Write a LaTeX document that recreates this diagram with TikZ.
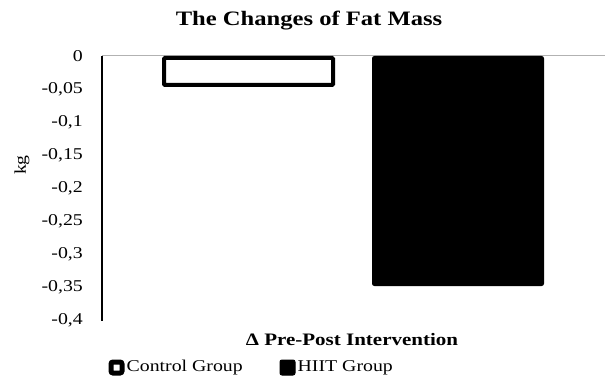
\documentclass[tikz,border=0pt]{standalone}
\usepackage{fontspec}
\setmainfont{Liberation Serif}[FakeStretch=1.2]
\usetikzlibrary{positioning}

\begin{document}
\begin{tikzpicture}[x=1pt,y=-1pt,
    every node/.style={inner sep=0pt},
    tick/.style={anchor=east,font=\fontsize{16.5}{16.5}\selectfont},
    legend/.style={font=\fontsize{16.5}{16.5}\selectfont},
    ctrlbar/.style={draw,line width=4pt,fill=white,rounded corners=1pt},
    hiitbar/.style={draw,line width=1pt,fill=black,rounded corners=2pt},
    keybox/.style={draw,rounded corners=2pt,minimum size=11pt}]
    \useasboundingbox (0,0) rectangle (605,377);
    %Titles
    \node(title) at (309,21) {\fontsize{20.5}{20.5}\selectfont\bfseries The Changes of Fat Mass};
    \node(xlabel) at (352,340) {\fontsize{17.5}{17.5}\selectfont\bfseries Δ Pre-Post Intervention};
    \node(ylabel)[rotate=90,legend] at (22,165) {kg};
    %Axes
    \coordinate(top) at (102,56);
    \coordinate(bottom) at (102,321);
    \coordinate(right) at (605,56);
    \draw[gray!60,line width=1pt] (top) -- (right);
    \foreach \v/\t in {0/0,1/{-0,05},2/{-0,1},3/{-0,15},4/{-0,2},5/{-0,25},6/{-0,3},7/{-0,35},8/{-0,4}}
        \node(tick\v)[tick] at (83,56+33*\v) {\t};
    %Bars
    \node(ctrl)[ctrlbar,minimum width=169pt,minimum height=27pt] at (248.5,71.5) {};
    \node(hiit)[hiitbar,minimum width=171pt,minimum height=229pt] at (458,171) {};
    \draw[line width=1.3pt] (top) -- (bottom);
    %Legend
    \node(ctrlkey)[keybox,fill=white,line width=5pt] at (116.5,367.5) {};
    \node(ctrltext)[legend,right=2pt of ctrlkey] {Control Group};
    \node(hiitkey)[keybox,fill=black,line width=1pt,minimum size=15pt] at (287.5,367.5) {};
    \node(hiittext)[legend,right=2pt of hiitkey] {HIIT Group};
\end{tikzpicture}
\end{document}
